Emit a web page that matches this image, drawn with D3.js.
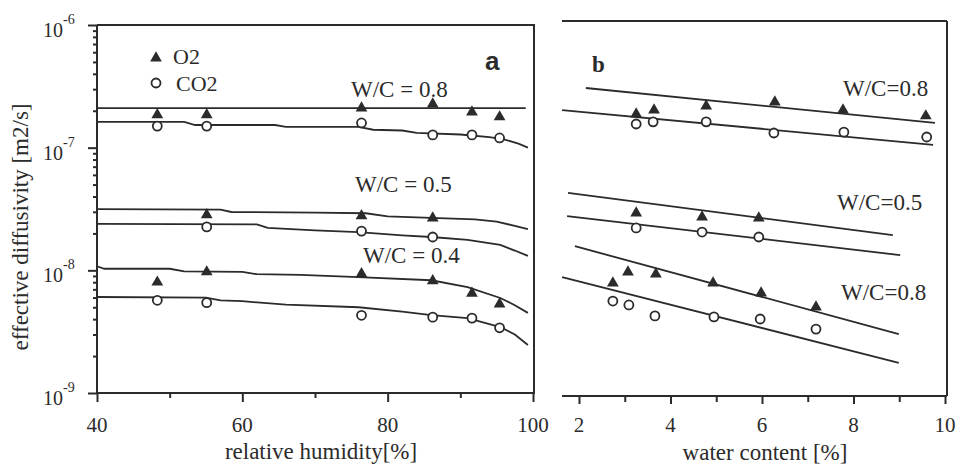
<!DOCTYPE html>
<html>
<head>
<meta charset="utf-8">
<script src="https://cdn.jsdelivr.net/npm/d3@7"></script>
<style>
  body { margin: 0; background: #fff; }
  svg { display: block; font-family: "Liberation Serif", "Times New Roman", serif; }
  .tick text { display: none; }
</style>
</head>
<body>
<svg id="chart" width="961" height="468"></svg>
<script>
// panel a: relative humidity [%] vs effective diffusivity, pairs are [rh, D]
const rhTicks = [40, 60, 80, 100]
const rhMinor = [50, 70, 90]
const decades = [1e-9, 1e-8, 1e-7, 1e-6]

const aO2_08 = [[48.3, 1.85e-7], [55.1, 1.85e-7], [76.4, 2.1e-7], [86.2, 2.27e-7], [91.6, 1.95e-7], [95.4, 1.78e-7]]
const aCO2_08 = [[48.3, 1.5e-7], [55.1, 1.5e-7], [76.4, 1.59e-7], [86.2, 1.27e-7], [91.6, 1.27e-7], [95.4, 1.2e-7]]
const aO2_05 = [[55.1, 2.83e-8], [76.4, 2.78e-8], [86.2, 2.67e-8]]
const aCO2_05 = [[55.1, 2.26e-8], [76.4, 2.09e-8], [86.2, 1.87e-8]]
const aO2_04 = [[48.3, 8.0e-9], [55.1, 9.7e-9], [76.4, 9.35e-9], [86.2, 8.2e-9], [91.6, 6.5e-9], [95.4, 5.3e-9]]
const aCO2_04 = [[48.3, 5.7e-9], [55.1, 5.45e-9], [76.4, 4.3e-9], [86.2, 4.15e-9], [91.6, 4.08e-9], [95.4, 3.4e-9]]

// model curves for panel a
const aFitO2_08 = [[40, 2.1e-7], [99, 2.1e-7]]
const aFitCO2_08 = [[40, 1.62e-7], [52, 1.62e-7], [53.5, 1.53e-7], [64.5, 1.53e-7], [66, 1.48e-7], [76, 1.48e-7], [78, 1.4e-7], [82, 1.38e-7], [84, 1.32e-7], [90, 1.28e-7], [94, 1.22e-7], [96, 1.17e-7], [98, 1.08e-7], [99.3, 1.0e-7]]
const aFitO2_05 = [[40, 3.16e-8], [57, 3.12e-8], [58.5, 2.99e-8], [70, 2.95e-8], [77, 2.92e-8], [80, 2.75e-8], [86, 2.68e-8], [92, 2.6e-8], [95, 2.5e-8], [97.5, 2.3e-8], [99.3, 2.17e-8]]
const aFitCO2_05 = [[40, 2.39e-8], [62, 2.37e-8], [63.5, 2.22e-8], [70, 2.12e-8], [76, 2.05e-8], [82, 1.93e-8], [86, 1.87e-8], [91, 1.77e-8], [95.5, 1.61e-8], [97.5, 1.45e-8], [99.3, 1.31e-8]]
const aFitO2_04 = [[40, 1.08e-8], [41, 1.03e-8], [50, 1.03e-8], [52, 9.8e-9], [60, 9.7e-9], [62, 9.3e-9], [68, 9.2e-9], [76, 8.8e-9], [86, 8.3e-9], [91, 7.3e-9], [95.5, 5.95e-9], [97.5, 5.2e-9], [99.3, 4.5e-9]]
const aFitCO2_04 = [[40, 6.06e-9], [55, 6.0e-9], [57, 5.7e-9], [60, 5.6e-9], [66, 5.25e-9], [76, 5.0e-9], [82, 4.6e-9], [86, 4.32e-9], [91, 4.08e-9], [95.5, 3.45e-9], [97.5, 3.0e-9], [99.3, 2.46e-9]]

// panel b: water content [%], pairs are [wc, D]
const wcTicks = [2, 4, 6, 8, 10]
const wcMinor = [3, 5, 7, 9]

const bO2_08 = [[3.25, 1.8e-7], [3.64, 1.94e-7], [4.78, 2.09e-7], [6.28, 2.25e-7], [7.77, 1.94e-7], [9.58, 1.74e-7]]
const bCO2_08 = [[3.25, 1.5e-7], [3.62, 1.56e-7], [4.78, 1.56e-7], [6.26, 1.27e-7], [7.79, 1.29e-7], [9.6, 1.18e-7]]
const bO2_05 = [[3.25, 2.91e-8], [4.69, 2.7e-8], [5.93, 2.65e-8]]
const bCO2_05 = [[3.25, 2.21e-8], [4.69, 2.05e-8], [5.93, 1.87e-8]]
const bO2_lo = [[2.74, 8.0e-9], [3.07, 9.8e-9], [3.68, 9.46e-9], [4.93, 8.0e-9], [5.98, 6.67e-9], [7.18, 5.15e-9]]
const bCO2_lo = [[2.74, 5.75e-9], [3.09, 5.35e-9], [3.66, 4.37e-9], [4.95, 4.29e-9], [5.96, 4.13e-9], [7.18, 3.43e-9]]

const bFitO2_08 = [[2.15, 2.91e-7], [9.78, 1.53e-7]]
const bFitCO2_08 = [[1.63, 1.94e-7], [9.74, 1.02e-7]]
const bFitO2_05 = [[1.76, 4.21e-8], [8.86, 1.94e-8]]
const bFitCO2_05 = [[1.74, 2.75e-8], [9.02, 1.34e-8]]
const bFitO2_lo = [[1.91, 1.58e-8], [8.99, 3.13e-9]]
const bFitCO2_lo = [[1.63, 8.95e-9], [8.99, 1.84e-9]]

const ink = '#2b2b2b'
const svg = d3.select('#chart')

// scales
const xA = d3.scaleLinear().domain([40, 100]).range([97, 533])
const yA = d3.scaleLog().domain([1e-9, 1e-6]).range([393, 25])
const xB = d3.scaleLinear().domain([2, 10]).range([579, 945])
const yB = d3.scaleLog().domain([1e-9, 1e-6]).range([396, 21])

function frameLine(x1, y1, x2, y2) {
  svg.append('line')
    .attr('x1', x1).attr('y1', y1).attr('x2', x2).attr('y2', y2)
    .attr('stroke', ink).attr('stroke-width', 2)
}

function styleAxis(g) {
  g.select('.domain').remove()
  g.selectAll('.tick line').attr('stroke', ink).attr('stroke-width', 2)
}

// panel a frame + axes
frameLine(xA(40), yA(1e-6), xA(100) + 2, yA(1e-6))
frameLine(xA(100) + 1, yA(1e-6), xA(100) + 1, yA(1e-9))
frameLine(xA(40), yA(1e-9), xA(100) + 2, yA(1e-9))
frameLine(xA(40), yA(1e-6), xA(40), yA(1e-9))

svg.append('g').attr('transform', 'translate(0,' + yA(1e-9) + ')')
  .call(d3.axisBottom(xA).tickValues(rhTicks).tickSize(9)).call(styleAxis)
svg.append('g').attr('transform', 'translate(0,' + yA(1e-9) + ')')
  .call(d3.axisBottom(xA).tickValues(rhMinor).tickSize(5)).call(styleAxis)

// log minor ticks 2..9 per decade
const minorY = []
decades.slice(0, 3).forEach(d => { for (let k = 2; k <= 9; k++) minorY.push(d * k) })
svg.append('g').attr('transform', 'translate(' + xA(40) + ',0)')
  .call(d3.axisLeft(yA).tickValues(decades).tickSize(9)).call(styleAxis)
svg.append('g').attr('transform', 'translate(' + xA(40) + ',0)')
  .call(d3.axisLeft(yA).tickValues(minorY).tickSize(4)).call(styleAxis)

svg.selectAll('.rhlab').data(rhTicks).enter().append('text')
  .attr('x', d => xA(d)).attr('y', 432)
  .attr('text-anchor', 'middle').attr('font-size', 21).attr('fill', ink)
  .text(d => d)

const ylab = svg.selectAll('.ylab').data(decades).enter().append('text')
  .attr('x', 43).attr('y', d => yA(d) + 12)
  .attr('font-size', 20).attr('fill', ink)
ylab.append('tspan').text('10')
ylab.append('tspan').attr('dy', -13).attr('font-size', 14).text(d => '-' + Math.round(-Math.log10(d)))

// panel b frame + axis
frameLine(562, yB(1e-6), xB(10) + 2, yB(1e-6))
frameLine(xB(10) + 2, yB(1e-6), xB(10) + 2, yB(1e-9))
frameLine(562, yB(1e-9), xB(10) + 2, yB(1e-9))

svg.append('g').attr('transform', 'translate(0,' + yB(1e-9) + ')')
  .call(d3.axisBottom(xB).tickValues(wcTicks).tickSize(8)).call(styleAxis)
svg.append('g').attr('transform', 'translate(0,' + yB(1e-9) + ')')
  .call(d3.axisBottom(xB).tickValues(wcMinor).tickSize(6)).call(styleAxis)

svg.selectAll('.wclab').data(wcTicks).enter().append('text')
  .attr('x', d => xB(d)).attr('y', 432)
  .attr('text-anchor', 'middle').attr('font-size', 21).attr('fill', ink)
  .text(d => d)

// fitted curves
const lineA = d3.line().x(d => xA(d[0])).y(d => yA(d[1]))
const lineB = d3.line().x(d => xB(d[0])).y(d => yB(d[1]))
;[aFitO2_08, aFitCO2_08, aFitO2_05, aFitCO2_05, aFitO2_04, aFitCO2_04].forEach(s => {
  svg.append('path').datum(s).attr('d', lineA)
    .attr('fill', 'none').attr('stroke', ink).attr('stroke-width', 1.8)
})
;[bFitO2_08, bFitCO2_08, bFitO2_05, bFitCO2_05, bFitO2_lo, bFitCO2_lo].forEach(s => {
  svg.append('path').datum(s).attr('d', lineB)
    .attr('fill', 'none').attr('stroke', ink).attr('stroke-width', 1.8)
})

// markers
const tri = d3.symbol(d3.symbolTriangle, 60)
function drawO2(data, x, y) {
  svg.append('g').selectAll('path').data(data).enter().append('path')
    .attr('d', tri)
    .attr('transform', d => 'translate(' + x(d[0]) + ',' + y(d[1]) + ')')
    .attr('fill', ink)
}
function drawCO2(data, x, y) {
  svg.append('g').selectAll('circle').data(data).enter().append('circle')
    .attr('cx', d => x(d[0])).attr('cy', d => y(d[1])).attr('r', 4.5)
    .attr('fill', '#fff').attr('stroke', ink).attr('stroke-width', 1.8)
}
;[aO2_08, aO2_05, aO2_04].forEach(s => drawO2(s, xA, yA))
;[aCO2_08, aCO2_05, aCO2_04].forEach(s => drawCO2(s, xA, yA))
;[bO2_08, bO2_05, bO2_lo].forEach(s => drawO2(s, xB, yB))
;[bCO2_08, bCO2_05, bCO2_lo].forEach(s => drawCO2(s, xB, yB))

// legend
svg.append('path').attr('d', tri).attr('transform', 'translate(156,58)').attr('fill', ink)
svg.append('circle').attr('cx', 156).attr('cy', 83).attr('r', 4.5)
  .attr('fill', '#fff').attr('stroke', ink).attr('stroke-width', 1.8)
svg.append('text').attr('x', 173).attr('y', 64).attr('font-size', 22).attr('fill', ink).text('O2')
svg.append('text').attr('x', 176).attr('y', 91).attr('font-size', 22).attr('fill', ink).text('CO2')

// annotations
function note(x, y, t, size, extra) {
  const el = svg.append('text').attr('x', x).attr('y', y)
    .attr('font-size', size || 23).attr('fill', ink).text(t)
  if (extra) extra(el)
}
note(485, 70, 'a', 26, el => el.attr('font-family', '"Liberation Sans", Arial, sans-serif').attr('font-weight', 'bold'))
note(351, 97, 'W/C = 0.8')
note(355, 192, 'W/C = 0.5')
note(363, 263, 'W/C = 0.4')
note(592, 72, 'b', 23, el => el.attr('font-weight', 'bold'))
note(843, 96, 'W/C=0.8')
note(837, 210, 'W/C=0.5')
note(841, 300, 'W/C=0.8')

// axis titles
svg.append('text').attr('x', 321).attr('y', 459).attr('text-anchor', 'middle')
  .attr('font-size', 23).attr('fill', ink).text('relative humidity[%]')
svg.append('text').attr('x', 765).attr('y', 460).attr('text-anchor', 'middle')
  .attr('font-size', 23).attr('fill', ink).text('water content [%]')
svg.append('text').attr('transform', 'translate(28,227) rotate(-90)').attr('text-anchor', 'middle')
  .attr('font-size', 23).attr('fill', ink).text('effective diffusivity [m2/s]')
</script>
</body>
</html>
